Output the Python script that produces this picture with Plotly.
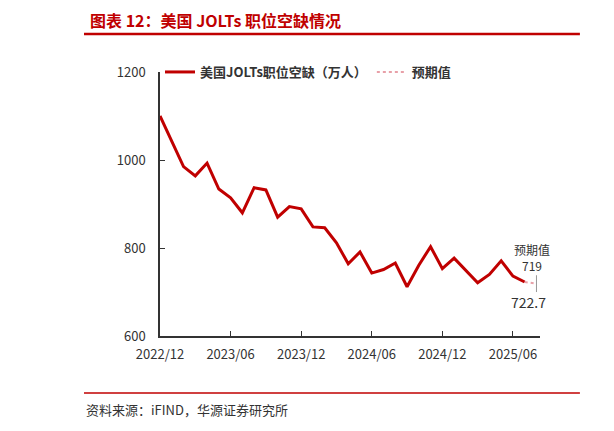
import plotly.graph_objects as go

months = ["2022/12","2023/01","2023/02","2023/03","2023/04","2023/05","2023/06","2023/07","2023/08","2023/09","2023/10","2023/11",
          "2023/12","2024/01","2024/02","2024/03","2024/04","2024/05","2024/06","2024/07","2024/08","2024/09","2024/10","2024/11",
          "2024/12","2025/01","2025/02","2025/03","2025/04","2025/05","2025/06","2025/07"]
jolts = [1100,1042,985,964,993,934,914,880,937,932,870,894,889,848,846,812,764,791,743,751,766,712,761,803,753,777,750,721,740,771,736,722.7]
fc_months = ["2025/07","2025/08"]
fc_values = [722.7,719]
tick_labels = ["2022/12","2023/06","2023/12","2024/06","2024/12","2025/06"]

allm = months + ["2025/08"]
idx = {m:i for i,m in enumerate(allm)}
RED = "#C00000"
F = "Noto Sans CJK SC"

fig = go.Figure()
fig.add_trace(go.Scatter(x=[idx[m] for m in months], y=jolts, mode="lines", name="<b>美国JOLTs职位空缺（万人）</b>",
                         line=dict(color=RED, width=3)))
fig.add_trace(go.Scatter(x=[idx[m] for m in fc_months], y=fc_values, mode="lines", name="<b>预期值</b>",
                         line=dict(color="#E8A0A8", width=2, dash="dot")))
fig.add_trace(go.Scatter(x=[idx["2025/08"]], y=[fc_values[1]], mode="markers", showlegend=False,
                         marker=dict(symbol="line-ns", size=12, line=dict(color="#999", width=1))))
fig.add_annotation(x=idx["2025/08"], y=fc_values[1], text="预期值<br>719", showarrow=False, yanchor="bottom",
                   yshift=8, xshift=-4, font=dict(size=12, color="#333", family=F))
fig.add_annotation(x=idx["2025/07"], y=jolts[-1], text=f"{jolts[-1]}", showarrow=False, yanchor="top",
                   yshift=-8, xshift=4, font=dict(size=14, color="#333", family=F))

fig.update_layout(
    width=614, height=431, margin=dict(l=152, r=82, t=64, b=103, autoexpand=False),
    plot_bgcolor="white", paper_bgcolor="white",
    font=dict(family=F, size=13, color="#333"),
    legend=dict(orientation="h", x=0.0, y=1.0, yanchor="middle", xanchor="left",
                font=dict(size=13, color="#333", family=F), bgcolor="rgba(0,0,0,0)"),
    xaxis=dict(range=[0, 32.3], tickvals=[idx[t] for t in tick_labels], ticktext=tick_labels,
               showline=True, linecolor="#333", linewidth=1.5, ticks="inside", ticklen=5, tickcolor="#333",
               showgrid=False, zeroline=False, tickfont=dict(size=13), ticklabelstandoff=6),
    yaxis=dict(range=[600, 1200], tickvals=[600,800,1000,1200], showline=True, linecolor="#333", linewidth=1.5,
               ticks="inside", ticklen=5, tickcolor="#333", showgrid=False, zeroline=False, tickfont=dict(size=13),
               ticklabelstandoff=10),
)
fig.add_annotation(xref="paper", yref="paper", x=-0.189, y=1.197, xanchor="left", yanchor="middle",
                   text="<b>图表 12：美国 JOLTs 职位空缺情况</b>", showarrow=False,
                   font=dict(size=16, color=RED, family=F))
fig.add_shape(type="line", xref="paper", yref="paper", x0=-0.2, x1=1.105, y0=1.144, y1=1.144, line=dict(color=RED, width=2.5))
fig.add_shape(type="line", xref="paper", yref="paper", x0=-0.2, x1=1.105, y0=-0.216, y1=-0.216, line=dict(color=RED, width=1.5))
fig.add_annotation(xref="paper", yref="paper", x=-0.2, y=-0.28, xanchor="left", yanchor="middle",
                   text="资料来源：iFIND，华源证券研究所", showarrow=False, font=dict(size=13, color="#333", family=F))
fig.write_html("out.html")
